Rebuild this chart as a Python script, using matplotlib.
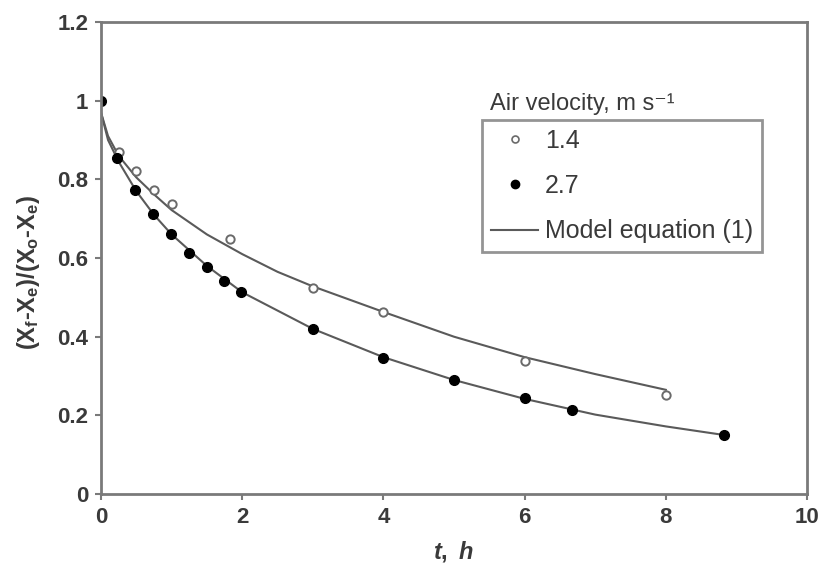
import matplotlib
matplotlib.use("Agg")
import matplotlib.pyplot as plt
from matplotlib.lines import Line2D

# measured points, air velocity 1.4 m/s (open circles)
t_14 = [0.25, 0.5, 0.75, 1.0, 1.83, 3.0, 4.0, 6.0, 8.0]
y_14 = [0.869, 0.82, 0.774, 0.738, 0.649, 0.525, 0.464, 0.338, 0.253]

# measured points, air velocity 2.7 m/s (filled circles)
t_27 = [0.0, 0.23, 0.48, 0.73, 0.99, 1.24, 1.5, 1.74, 1.99, 3.0, 4.0, 5.0, 6.0, 6.67, 8.83]
y_27 = [1.0, 0.855, 0.772, 0.712, 0.662, 0.613, 0.577, 0.541, 0.513, 0.42, 0.347, 0.289, 0.245, 0.213, 0.15]

# model equation (1) curves
model_t_14 = [0, 0.1, 0.25, 0.5, 0.75, 1.0, 1.5, 2.0, 2.5, 3.0, 4.0, 5.0, 6.0, 7.0, 8.0]
model_y_14 = [0.97, 0.91, 0.86, 0.805, 0.762, 0.722, 0.66, 0.61, 0.565, 0.528, 0.463, 0.40, 0.348, 0.305, 0.265]
model_t_27 = [0, 0.1, 0.25, 0.5, 0.75, 1.0, 1.5, 2.0, 3.0, 4.0, 5.0, 6.0, 7.0, 8.0, 8.83]
model_y_27 = [0.97, 0.90, 0.845, 0.77, 0.71, 0.66, 0.58, 0.513, 0.42, 0.348, 0.29, 0.242, 0.202, 0.172, 0.15]

x_ticks = [0, 2, 4, 6, 8, 10]
y_ticks = [0, 0.2, 0.4, 0.6, 0.8, 1.0, 1.2]
y_tick_labels = ["0", "0.2", "0.4", "0.6", "0.8", "1", "1.2"]

plt.rcParams["font.family"] = ["Liberation Sans", "DejaVu Sans"]
plt.rcParams["mathtext.fontset"] = "custom"
plt.rcParams["mathtext.rm"] = "Liberation Sans:bold"
plt.rcParams["mathtext.it"] = "Liberation Sans:bold:italic"
plt.rcParams["mathtext.bf"] = "Liberation Sans:bold"

spine_col = "#7a7a7a"
line_col = "#5a5a5a"
text_col = "#3a3a3a"

fig = plt.figure(figsize=(8.25, 5.64), dpi=100)
ax = fig.add_axes([0.1224, 0.124, 0.8558, 0.837])

ax.plot(model_t_14, model_y_14, color=line_col, lw=1.5)
ax.plot(model_t_27, model_y_27, color=line_col, lw=1.5)
ax.plot(t_14, y_14, "o", ms=6, mfc="white", mec="#6a6a6a", mew=1.4)
ax.plot(t_27, y_27, "o", ms=7, mfc="black", mec="black")

ax.set_xlim(0, 10)
ax.set_ylim(0, 1.2)
ax.set_xticks(x_ticks)
ax.set_yticks(y_ticks)
ax.set_yticklabels(y_tick_labels)
for s in ax.spines.values():
    s.set_color(spine_col)
    s.set_linewidth(2)
ax.tick_params(direction="out", length=4, width=1.5, color=spine_col,
               labelsize=16, labelcolor=text_col, pad=5)
for lab in ax.get_xticklabels() + ax.get_yticklabels():
    lab.set_fontweight("bold")

ax.set_xlabel(r"$\mathit{t,\ h}$", fontsize=17, color=text_col, labelpad=8)
ax.set_ylabel(r"$\mathrm{(X_f\text{-}X_e)/(X_o\text{-}X_e)}$", fontsize=17,
              color=text_col)
ax.yaxis.set_label_coords(-0.084, 0.47)

handles = [
    Line2D([], [], ls="none", marker="o", ms=5, mfc="white", mec="#6a6a6a", mew=1.2),
    Line2D([], [], ls="none", marker="o", ms=6, mfc="black", mec="black"),
    Line2D([], [], color=line_col, lw=1.5),
]
leg = ax.legend(handles, ["1.4", "2.7", "Model equation (1)"],
                loc="upper left", bbox_to_anchor=(0.540, 0.792),
                fontsize=18, frameon=True, fancybox=False, handlelength=1.9,
                handletextpad=0.25, labelspacing=0.85, borderpad=0.35,
                borderaxespad=0)
leg.get_frame().set_edgecolor(spine_col)
leg.get_frame().set_linewidth(2)
for txt in leg.get_texts():
    txt.set_color(text_col)

ax.text(0.551, 0.826, "Air velocity, m s⁻¹", transform=ax.transAxes,
        fontsize=17, color=text_col, va="center", ha="left")

fig.savefig("out.png", dpi=100)
